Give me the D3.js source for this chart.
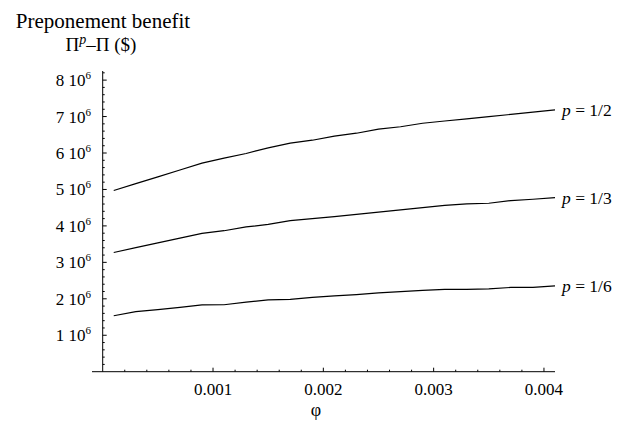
<!DOCTYPE html>
<html><head><meta charset="utf-8">
<script src="https://cdn.jsdelivr.net/npm/d3@7"></script>
<style>body{margin:0;background:#fff}svg text,svg tspan{font-family:"Liberation Serif","Times New Roman",Times,serif}</style>
</head><body><svg id="c" width="624" height="424" font-family="Liberation Serif, serif"></svg>
<script>
const phi = [0.0001,0.0003,0.0005,0.0007,0.0009,0.0011,0.0013,0.0015,0.0017,0.0019,0.0021,0.0023,0.0025,0.0027,0.0029,0.0031,0.0033,0.0035,0.0037,0.0039,0.0041];
const seriesHalf = [4.97,5.16,5.345,5.535,5.724,5.861,5.987,6.14,6.269,6.351,6.464,6.543,6.653,6.721,6.817,6.878,6.938,6.998,7.059,7.122,7.182].map(v=>v*1e6);
const seriesThird = [3.27,3.402,3.536,3.665,3.794,3.868,3.972,4.041,4.145,4.202,4.254,4.317,4.378,4.441,4.501,4.564,4.605,4.622,4.696,4.731,4.778].map(v=>v*1e6);
const seriesSixth = [1.535,1.65,1.705,1.765,1.831,1.837,1.908,1.968,1.982,2.037,2.078,2.116,2.16,2.196,2.229,2.256,2.256,2.275,2.311,2.311,2.357].map(v=>v*1e6);
const seriesLabels = ["1/2","1/3","1/6"];
const xTicks = [0.001,0.002,0.003,0.004];
const yTicks = [1,2,3,4,5,6,7,8];

const FF = "Liberation Serif, Times New Roman, serif";
const svg = d3.select("#c");
const x = d3.scaleLinear().domain([0,0.0041]).range([102.7,555]);
const y = d3.scaleLinear().domain([0,8.25e6]).range([371.7,71]);

// axes lines
svg.append("line").attr("x1",92).attr("x2",x(0.0041)).attr("y1",y(0)).attr("y2",y(0)).attr("stroke","#000").attr("stroke-width",1);
svg.append("line").attr("x1",x(0)).attr("x2",x(0)).attr("y1",y(0)).attr("y2",y(8.25e6)).attr("stroke","#000").attr("stroke-width",1);

// x ticks
const xMinor = d3.range(1,21).map(i=>i*0.0002);
svg.selectAll(".xt").data(xMinor).enter().append("line")
  .attr("x1",d=>x(d)).attr("x2",d=>x(d)).attr("y1",y(0))
  .attr("y2",d=>y(0)-(Math.abs(d*1000-Math.round(d*1000))<1e-6?4:2))
  .attr("stroke","#000").attr("stroke-width",1);
svg.selectAll(".xl").data(xTicks).enter().append("text")
  .attr("font-family",FF)
  .attr("x",d=>x(d)).attr("y",395).attr("text-anchor","middle").attr("font-size",17)
  .text(d=>d3.format(".3f")(d));

// y ticks
const yMinor = d3.range(1,42).map(i=>i*0.2e6);
svg.selectAll(".yt").data(yMinor).enter().append("line")
  .attr("y1",d=>y(d)).attr("y2",d=>y(d)).attr("x1",x(0))
  .attr("x2",(d,i)=>x(0)+((i+1)%5===0?4:2))
  .attr("stroke","#000").attr("stroke-width",1);
const yl = svg.selectAll(".yl").data(yTicks).enter().append("text")
  .attr("font-family",FF)
  .attr("x",91).attr("y",d=>y(d*1e6)+6).attr("text-anchor","end").attr("font-size",17);
yl.append("tspan").text(d=>d+" 10");
yl.append("tspan").attr("font-size",11).attr("dy",-7).text("6");

// lines
const line = d3.line().x((d,i)=>x(phi[i])).y(d=>y(d));
const all = [seriesHalf,seriesThird,seriesSixth];
svg.selectAll(".ln").data(all).enter().append("path")
  .attr("d",d=>line(d)).attr("fill","none").attr("stroke","#000").attr("stroke-width",1.2);

// series labels
const sl = svg.selectAll(".sl").data(all).enter().append("text")
  .attr("font-family",FF)
  .attr("x",562).attr("y",d=>y(d[d.length-1])+6.5).attr("font-size",17.5);
sl.append("tspan").attr("font-style","italic").text("p");
sl.append("tspan").text((d,i)=>" = "+seriesLabels[i]);

// titles
svg.append("text").attr("font-family",FF).attr("x",103).attr("y",28).attr("text-anchor","middle").attr("font-size",21).text("Preponement benefit");
const t2 = svg.append("text").attr("font-family",FF).attr("x",101).attr("y",51).attr("text-anchor","middle").attr("font-size",19);
t2.append("tspan").text("Π");
t2.append("tspan").attr("font-style","italic").attr("font-size",14).attr("dy",-7).text("p");
t2.append("tspan").attr("dy",7).text("–Π ($)");
svg.append("text").attr("font-family",FF).attr("x",316).attr("y",416).attr("text-anchor","middle").attr("font-size",18).text("φ");
</script></body></html>
